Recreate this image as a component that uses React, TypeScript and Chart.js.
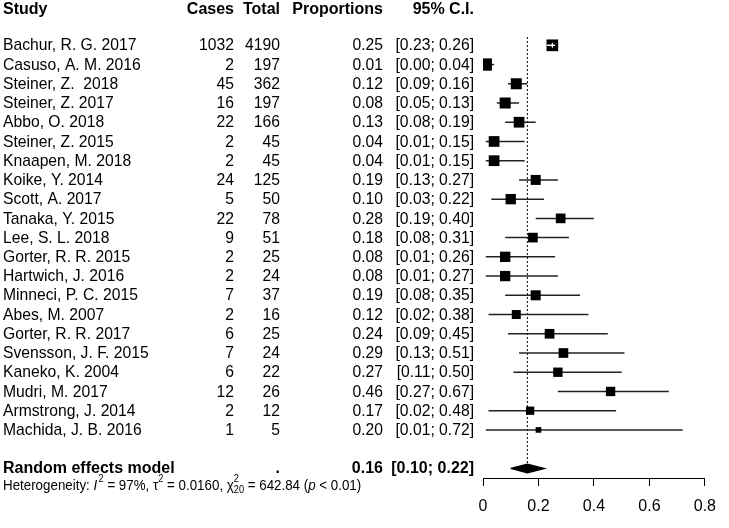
import React, { useEffect, useRef } from 'react';
import { Chart, registerables } from 'chart.js';

Chart.register(...registerables);

// ---------- data ----------
const studies = [
  'Bachur, R. G. 2017',
  'Casuso, A. M. 2016',
  'Steiner, Z.  2018',
  'Steiner, Z. 2017',
  'Abbo, O. 2018',
  'Steiner, Z. 2015',
  'Knaapen, M. 2018',
  'Koike, Y. 2014',
  'Scott, A. 2017',
  'Tanaka, Y. 2015',
  'Lee, S. L. 2018',
  'Gorter, R. R. 2015',
  'Hartwich, J. 2016',
  'Minneci, P. C. 2015',
  'Abes, M. 2007',
  'Gorter, R. R. 2017',
  'Svensson, J. F. 2015',
  'Kaneko, K. 2004',
  'Mudri, M. 2017',
  'Armstrong, J. 2014',
  'Machida, J. B. 2016',
];
const cases = [1032, 2, 45, 16, 22, 2, 2, 24, 5, 22, 9, 2, 2, 7, 2, 6, 7, 6, 12, 2, 1];
const totals = [4190, 197, 362, 197, 166, 45, 45, 125, 50, 78, 51, 25, 24, 37, 16, 25, 24, 22, 26, 12, 5];
const proportions = [0.25, 0.01, 0.12, 0.08, 0.13, 0.04, 0.04, 0.19, 0.10, 0.28, 0.18, 0.08, 0.08, 0.19, 0.12, 0.24, 0.29, 0.27, 0.46, 0.17, 0.20];
const ciLower = [0.23, 0.00, 0.09, 0.05, 0.08, 0.01, 0.01, 0.13, 0.03, 0.19, 0.08, 0.01, 0.01, 0.08, 0.02, 0.09, 0.13, 0.11, 0.27, 0.02, 0.01];
const ciUpper = [0.26, 0.04, 0.16, 0.13, 0.19, 0.15, 0.15, 0.27, 0.22, 0.40, 0.31, 0.26, 0.27, 0.35, 0.38, 0.45, 0.51, 0.50, 0.67, 0.48, 0.72];
// study weights (%)
const weights = [6.4, 7.1, 5.7, 5.7, 5.4, 5.4, 5.4, 4.7, 5.0, 4.4, 4.4, 5.0, 5.0, 4.7, 3.8, 4.4, 4.4, 4.1, 4.1, 3.2, 1.5];
const pooledLabel = 'Random effects model';
const pooledEstimate = 0.16;
const pooledLower = 0.10;
const pooledUpper = 0.22;
const headers = ['Study', 'Cases', 'Total', 'Proportions', '95% C.I.'];
const xTicks = [0, 0.2, 0.4, 0.6, 0.8];

// ---------- layout / style ----------
const FONT = '"Liberation Sans", Arial, sans-serif';
const HEADER_ROW = -1.9;
const POOLED_ROW = studies.length + 1;
const HET_ROW = POOLED_ROW + 0.9;
const COL_STUDY = 3;
const COL_CASES = 234;
const COL_TOTAL = 280;
const COL_PROP = 383;
const COL_CI = 474;
const BOX_K = 4.616;

const fmt = (v: number) => v.toFixed(2);
const ciText = (lo: number, hi: number) => `[${fmt(lo)}; ${fmt(hi)}]`;

const tablePlugin = {
  id: 'forestTable',
  afterDraw(chart: any) {
    const ctx: CanvasRenderingContext2D = chart.ctx;
    const ys = chart.scales.y;
    ctx.save();
    ctx.fillStyle = '#000';
    ctx.textBaseline = 'middle';

    const hy = ys.getPixelForValue(HEADER_ROW) + 0.5;
    ctx.font = `bold 16px ${FONT}`;
    ctx.textAlign = 'left';
    ctx.fillText(headers[0], COL_STUDY, hy);
    ctx.textAlign = 'right';
    ctx.fillText(headers[1], COL_CASES, hy);
    ctx.fillText(headers[2], COL_TOTAL, hy);
    ctx.fillText(headers[3], COL_PROP, hy);
    ctx.fillText(headers[4], COL_CI, hy);

    ctx.font = `15.7px ${FONT}`;
    studies.forEach((s, i) => {
      const y = ys.getPixelForValue(i) + 0.8;
      ctx.textAlign = 'left';
      ctx.fillText(s, COL_STUDY, y);
      ctx.textAlign = 'right';
      ctx.fillText(String(cases[i]), COL_CASES, y);
      ctx.fillText(String(totals[i]), COL_TOTAL, y);
      ctx.fillText(fmt(proportions[i]), COL_PROP, y);
      ctx.fillText(ciText(ciLower[i], ciUpper[i]), COL_CI, y);
    });

    const py = ys.getPixelForValue(POOLED_ROW) + 0.5;
    ctx.font = `bold 16px ${FONT}`;
    ctx.textAlign = 'left';
    ctx.fillText(pooledLabel, COL_STUDY, py);
    ctx.textAlign = 'right';
    ctx.fillText('.', COL_TOTAL, py);
    ctx.fillText(fmt(pooledEstimate), COL_PROP, py);
    ctx.fillText(ciText(pooledLower, pooledUpper), COL_CI, py);

    const hty = ys.getPixelForValue(HET_ROW);
    ctx.save();
    ctx.translate(COL_STUDY, hty);
    ctx.scale(0.92, 1);
    let x = 0;
    ctx.textAlign = 'left';
    const main = `14.5px ${FONT}`;
    const ital = `italic 14.5px ${FONT}`;
    const small = `10px ${FONT}`;
    const put = (t: string, font: string, dy = 0, adv = true) => {
      ctx.font = font;
      ctx.fillText(t, x, dy);
      const w = ctx.measureText(t).width;
      if (adv) x += w;
      return w;
    };
    put('Heterogeneity: ', main);
    put('I', ital);
    x += 1.5;
    put('2', small, -6);
    put(' = 97%, \u03C4', main);
    put('2', small, -6);
    put(' = 0.0160, \u03C7', main);
    const w1 = put('2', small, -6, false);
    const w2 = put('20', small, 5, false);
    x += Math.max(w1, w2);
    put(' = 642.84 (', main);
    put('p', ital);
    put(' < 0.01)', main);
    ctx.restore();
    ctx.restore();
  },
};

// shared scale configuration so both canvases line up
const xScale = (tickColor: string) => ({
  type: 'linear',
  min: xTicks[0],
  max: xTicks[xTicks.length - 1],
  ticks: {
    color: tickColor,
    stepSize: xTicks[1] - xTicks[0],
    padding: 13,
    font: { family: FONT, size: 16, lineHeight: 1 },
  },
  grid: { drawOnChartArea: false, drawTicks: true, tickLength: 8, color: '#000' },
  border: { display: true, color: '#000', width: 1 },
});
const yScale = { type: 'linear', reverse: true, min: -2.2, max: 22.5, display: false };

export default function App() {
  const ref = useRef<HTMLCanvasElement>(null);
  const axisRef = useRef<HTMLCanvasElement>(null);
  useEffect(() => {
    if (!ref.current || !axisRef.current) return;
    const whiteCi = {
      data: [
        { x: ciLower[0], y: 0 },
        { x: ciUpper[0], y: 0 },
      ],
      showLine: true,
      borderColor: '#ffffff',
      borderWidth: 1.5,
      pointRadius: 0,
    };
    const whiteTick = {
      data: [
        { x: proportions[0], y: -0.13 },
        { x: proportions[0], y: 0.13 },
      ],
      showLine: true,
      borderColor: '#ffffff',
      borderWidth: 1.2,
      pointRadius: 0,
    };
    const squares = {
      data: proportions.map((p, i) => ({ x: p, y: i })),
      pointStyle: 'rect',
      pointRadius: (c: any) => (Math.sqrt(weights[c.dataIndex] ?? 1) * BOX_K) / Math.SQRT2,
      backgroundColor: '#000',
      borderColor: '#000',
      borderWidth: 0,
    } as any;
    const diamond = {
      data: [
        { x: pooledLower, y: POOLED_ROW },
        { x: pooledEstimate, y: POOLED_ROW - 0.22 },
        { x: pooledUpper, y: POOLED_ROW },
        { x: pooledEstimate, y: POOLED_ROW + 0.22 },
        { x: pooledLower, y: POOLED_ROW },
      ],
      showLine: true,
      fill: 'shape',
      backgroundColor: '#000',
      borderColor: '#000',
      borderWidth: 1.5,
      pointRadius: 0,
    } as any;
    const ciSets = studies.slice(1).map((_, k) => {
      const i = k + 1;
      return {
        data: [
          { x: ciLower[i], y: i },
          { x: ciUpper[i], y: i },
        ],
        showLine: true,
        borderColor: '#222',
        borderWidth: 1.5,
        pointRadius: 0,
      };
    });
    const refLine = {
      data: [
        { x: pooledEstimate, y: -0.43 },
        { x: pooledEstimate, y: POOLED_ROW - 0.22 },
      ],
      showLine: true,
      borderColor: '#000',
      borderWidth: 1,
      borderDash: [2, 2],
      pointRadius: 0,
    };
    const chart = new Chart(ref.current, {
      type: 'scatter',
      data: { datasets: [whiteCi, whiteTick, squares, diamond, ...ciSets, refLine] },
      options: {
        animation: false,
        responsive: false,
        devicePixelRatio: 1,
        layout: { autoPadding: false, padding: { left: 483, right: 16, top: 3, bottom: 0 } },
        plugins: { legend: { display: false }, tooltip: { enabled: false } },
        scales: { x: xScale('rgba(0,0,0,0)'), y: yScale },
      },
      plugins: [tablePlugin],
    } as any);
    const axisChart = new Chart(axisRef.current, {
      type: 'scatter',
      data: { datasets: [{ data: [], backgroundColor: '#000' }] },
      options: {
        animation: false,
        responsive: false,
        devicePixelRatio: 1,
        layout: { padding: { left: 483, right: 16, top: 3, bottom: 0 } },
        plugins: { legend: { display: false }, tooltip: { enabled: false } },
        scales: { x: xScale('#000'), y: yScale },
      },
    } as any);
    return () => {
      chart.destroy();
      axisChart.destroy();
    };
  }, []);
  return (
    <div style={{ position: 'absolute', left: 0, top: 0, width: 729, height: 528, background: '#fff' }}>
      <canvas ref={ref} width={729} height={528} style={{ position: 'absolute', left: 0, top: 0 }} />
      <canvas
        ref={axisRef}
        width={729}
        height={528}
        style={{ position: 'absolute', left: 0, top: 0, pointerEvents: 'none' }}
      />
    </div>
  );
}
